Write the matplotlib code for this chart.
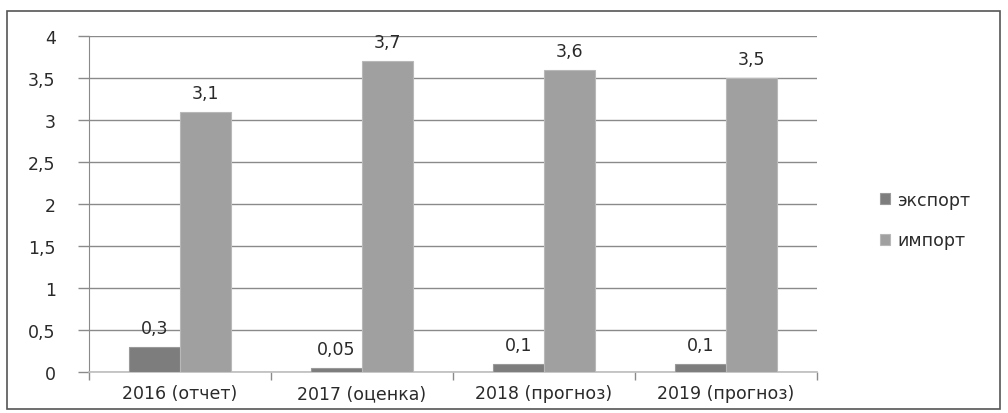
import numpy as np
import matplotlib.pyplot as plt
from matplotlib.patches import Rectangle

categories = ["2016 (отчет)", "2017 (оценка)", "2018 (прогноз)", "2019 (прогноз)"]
export_vals = [0.3, 0.05, 0.1, 0.1]
import_vals = [3.1, 3.7, 3.6, 3.5]
export_labels = ["0,3", "0,05", "0,1", "0,1"]
import_labels = ["3,1", "3,7", "3,6", "3,5"]
yticks = [0, 0.5, 1, 1.5, 2, 2.5, 3, 3.5, 4]
ytick_labels = ["0", "0,5", "1", "1,5", "2", "2,5", "3", "3,5", "4"]

EXP_COLOR = "#7d7d7d"
IMP_COLOR = "#a0a0a0"
GRID = "#8a8a8a"
TXT = "#2a2a2a"
FS = 12.5

fig = plt.figure(figsize=(10.08, 4.14), dpi=100)
fig.patches.append(Rectangle((7 / 1008, 4 / 414), 993 / 1008, 398 / 414,
                             transform=fig.transFigure, fill=False,
                             edgecolor="#555555", linewidth=1.2))

ax = fig.add_axes([89 / 1008, 41 / 414, 728 / 1008, 336 / 414])

x = np.arange(len(categories))
w = 0.28
ax.bar(x - w / 2, export_vals, w, color=EXP_COLOR, edgecolor="#9a9a9a",
       linewidth=0.8, label="экспорт", zorder=3)
ax.bar(x + w / 2, import_vals, w, color=IMP_COLOR, edgecolor="#b8b8b8",
       linewidth=0.8, label="импорт", zorder=3)

for i in range(len(categories)):
    ax.annotate(export_labels[i], (x[i] - w / 2, export_vals[i]),
                xytext=(0, 7), textcoords="offset points",
                ha="center", va="bottom", fontsize=FS, color=TXT)
    ax.annotate(import_labels[i], (x[i] + w / 2, import_vals[i]),
                xytext=(0, 7), textcoords="offset points",
                ha="center", va="bottom", fontsize=FS, color=TXT)

ax.set_xlim(-0.5, len(categories) - 0.5)
ax.set_ylim(0, 4)
ax.set_yticks(yticks)
ax.set_yticklabels(ytick_labels, fontsize=FS, color=TXT)
ax.set_xticks(x)
ax.set_xticklabels(categories, fontsize=FS, color=TXT)
ax.tick_params(axis="x", length=0, pad=9)
ax.tick_params(axis="y", length=8, width=1, color=GRID, pad=16)
ax.set_xticks(np.arange(len(categories) + 1) - 0.5, minor=True)
ax.tick_params(axis="x", which="minor", length=6, width=1, color=GRID)

ax.yaxis.grid(True, color=GRID, linewidth=1, zorder=0)
ax.set_axisbelow(True)
for s in ["top", "right"]:
    ax.spines[s].set_visible(False)
ax.spines["left"].set_color(GRID)
ax.spines["bottom"].set_color("#bdbdbd")
ax.spines["bottom"].set_linewidth(1.2)

leg = ax.legend(loc="center left", bbox_to_anchor=(1.065, 0.452), frameon=False,
                fontsize=FS, handlelength=0.6, handleheight=0.6,
                handletextpad=0.4, labelspacing=1.3)
for t in leg.get_texts():
    t.set_color(TXT)

fig.savefig("out.png", dpi=100, facecolor="white")
